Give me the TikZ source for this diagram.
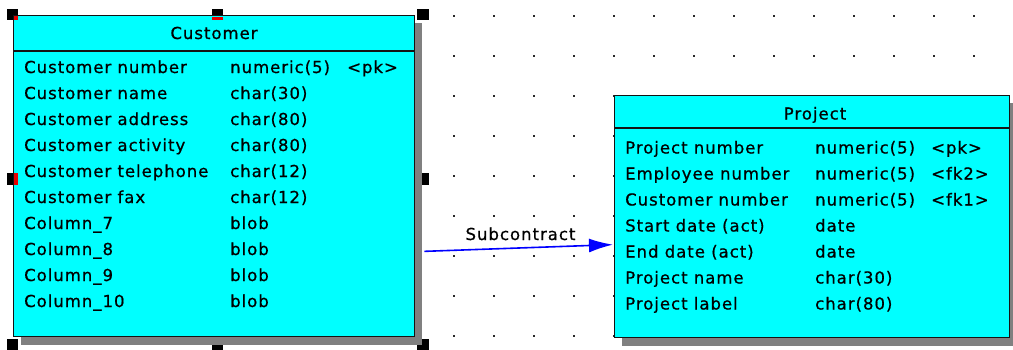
\documentclass[tikz,border=0pt]{standalone}
\usepackage{fontspec}
\setmainfont{DejaVu Sans}[LetterSpace=6,FakeBold=0.7]
\usetikzlibrary{arrows.meta}
\definecolor{erfill}{RGB}{0,255,255}
\definecolor{shadowc}{RGB}{128,128,128}
\definecolor{dotc}{RGB}{40,40,40}
\definecolor{edgec}{RGB}{20,20,20}
\definecolor{relc}{RGB}{0,0,255}
\definecolor{markc}{RGB}{230,0,0}
\tikzset{
  txt/.style={anchor=base west, inner sep=0pt, font=\fontsize{16.5}{18}\selectfont, text=black},
  ttl/.style={anchor=base, inner sep=0pt, font=\fontsize{16.5}{18}\selectfont, text=black},
  tablebox/.style={draw=edgec, line width=1.3pt, fill=erfill, anchor=north west, inner sep=0pt},
  handle/.style={fill=black},
  shadowbox/.style={fill=shadowc},
  sep/.style={draw=edgec, line width=1.2pt},
  rel/.style={draw=relc, line width=1.6pt, -{Latex[length=24pt,width=14pt]}}
}
\begin{document}
\begin{tikzpicture}[x=1pt,y=-1pt]
\useasboundingbox (0,0) rectangle (1013,349);
% grid dots
\foreach \x in {14,54,...,974}{
  \foreach \y in {16,56,...,336}{
    \fill[dotc] (\x-1,\y-1) rectangle (\x+1,\y+1);
  }
}
% selection handles
\fill[handle] (7,9) rectangle (18,20);
\fill[handle] (212,9) rectangle (223,20);
\fill[handle] (417,9) rectangle (429,20);
\fill[handle] (7,173) rectangle (18,185);
\fill[handle] (417,173) rectangle (429,185);
\fill[handle] (7,339) rectangle (18,350);
\fill[handle] (212,339) rectangle (223,350);
\fill[handle] (417,339) rectangle (429,350);
% shadows
\fill[shadowbox] (21,23) rectangle (422,345);
\fill[shadowbox] (622,103) rectangle (1017,346);
% tables
\node[tablebox, minimum width=401pt, minimum height=321pt] (cust) at (13,15) {};
\node[tablebox, minimum width=395pt, minimum height=242pt] (proj) at (614,95) {};
\draw[sep] ([yshift=-36pt]cust.north west) -- ([yshift=-36pt]cust.north east);
\draw[sep] ([yshift=-33pt]proj.north west) -- ([yshift=-33pt]proj.north east);
% red marks
\fill[markc] (14,16) rectangle (18,20);
\fill[markc] (212,16.5) rectangle (223,20);
\fill[markc] (13.5,173) rectangle (18,185);
% titles
\node[ttl] (custtitle) at (214,39) {Customer};
\node[ttl] (projtitle) at (815,119.5) {Project};
% customer rows
\foreach \n/\t/\k [count=\i from 0] in {
  Customer number/numeric(5)/<pk>,
  Customer name/char(30)/,
  Customer address/char(80)/,
  Customer activity/char(80)/,
  Customer telephone/char(12)/,
  Customer fax/char(12)/,
  Column\_7/blob/,
  Column\_8/blob/,
  Column\_9/blob/,
  Column\_10/blob/}{
  \node[txt] (cn\i) at (24,73+26*\i) {\n};
  \node[txt] (ct\i) at (230,73+26*\i) {\t};
  \node[txt] (ck\i) at (347,73+26*\i) {\k};
}
% project rows
\foreach \n/\t/\k [count=\i from 0] in {
  Project number/numeric(5)/<pk>,
  Employee number/numeric(5)/<fk2>,
  Customer number/numeric(5)/<fk1>,
  Start date (act)/date/,
  End date (act)/date/,
  Project name/char(30)/,
  Project label/char(80)/}{
  \node[txt] (pn\i) at (625,153.5+26*\i) {\n};
  \node[txt] (pt\i) at (815,153.5+26*\i) {\t};
  \node[txt] (pk\i) at (931,153.5+26*\i) {\k};
}
% relationship
\draw[rel] ([shift={(9pt,-75.2pt)}]cust.east) -- ([shift={(-1pt,-28pt)}]proj.west);
\node[ttl] (rellabel) at (520.5,240) {Subcontract};
\end{tikzpicture}
\end{document}
